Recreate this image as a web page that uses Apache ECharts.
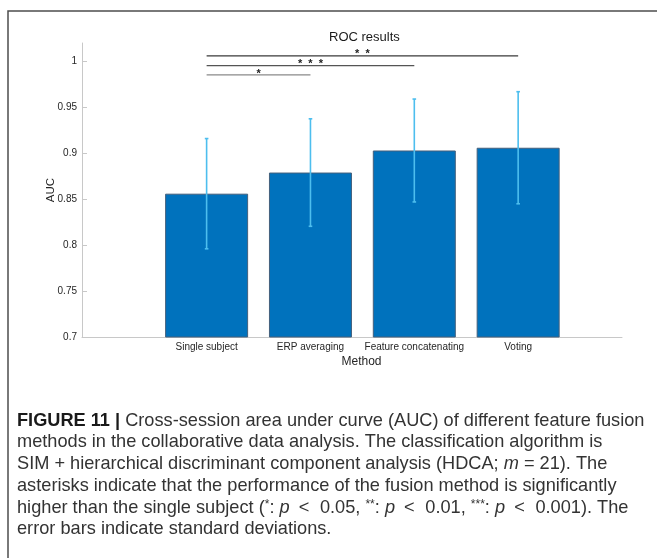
<!DOCTYPE html>
<html><head><meta charset="utf-8">
<script src="https://cdn.jsdelivr.net/npm/echarts@6/dist/echarts.min.js"></script>
<style>html,body{margin:0;padding:0;background:#fff}#c{width:657px;height:558px}</style>
</head><body><div id="c"></div>
<script>
// ---- data ----
const categories = ['Single subject', 'ERP averaging', 'Feature concatenating', 'Voting'];
const catPositions = [1, 2, 3, 4];
const aucMean = [0.856, 0.879, 0.903, 0.906];
const aucStd = [0.060, 0.0585, 0.056, 0.061];
const yTicks = [0.7, 0.75, 0.8, 0.85, 0.9, 0.95, 1];
const sigFrom = [1, 1, 1];
const sigTo = [4, 3, 2];
const sigY = [1.0059, 0.9954, 0.9852];
const sigLabel = ['*  *', '*  *  *', '*'];
const sigColor = ['#3a3a3a', '#555555', '#8a8a8a'];
const captionLines = [
  '{b|FIGURE 11 |} {n|Cross-session area under curve (AUC) of different feature fusion}',
  '{n|methods in the collaborative data analysis. The classification algorithm is}',
  '{n|SIM + hierarchical discriminant component analysis (HDCA; }{i|m}{n| = 21). The}',
  '{n|asterisks indicate that the performance of the fusion method is significantly}',
  '{n|higher than the single subject (}{s|*}{n|: }{i|p}{n|\u2002<\u2002\u200A0.05, }{s|**}{n|: }{i|p}{n|\u2002<\u2002\u200A0.01, }{s|***}{n|: }{i|p}{n|\u2002<\u2002\u200A0.001). The}',
  '{n|error bars indicate standard deviations.}'
];
const captionY = [420.7, 442.4, 464.1, 485.8, 507.5, 529.2];

// ---- build ----
const FONT = 'Liberation Sans, Arial, Helvetica, sans-serif';
const CAPFONT = 'Liberation Sans, Arial, sans-serif';
const barData = aucMean.map((v, i) => [catPositions[i], v]);
const errData = aucMean.map((v, i) => [catPositions[i], v - aucStd[i], v + aucStd[i]]);
const sigData = sigFrom.map((f, i) => [f, sigTo[i], sigY[i]]);

const capFont = 18.2;
const rich = {
  b: {fontFamily: CAPFONT, fontSize: capFont, fontWeight: 'bold', fill: '#1a1a1a'},
  n: {fontFamily: CAPFONT, fontSize: capFont, fill: '#333333'},
  i: {fontFamily: CAPFONT, fontSize: capFont, fontStyle: 'italic', fill: '#333333'},
  s: {fontFamily: CAPFONT, fontSize: 12, fill: '#333333', verticalAlign: 'top', padding: [0, 0, 6, 0]}
};
const graphics = [
  {type: 'rect', shape: {x: 8, y: 11, width: 700, height: 620}, style: {fill: 'none', stroke: '#4d4d4d', lineWidth: 1.5}, silent: true, z: -1}
].concat(captionLines.map((t, k) => ({
  type: 'text', x: 17, y: captionY[k],
  style: {text: t, rich: rich, verticalAlign: 'middle', align: 'left', fontFamily: CAPFONT, fontSize: capFont, fill: '#333'}
})));

const chart = echarts.init(document.getElementById('c'), null, {renderer: 'canvas'});
chart.setOption({
  animation: false,
  backgroundColor: '#ffffff',
  title: {
    text: 'ROC results', left: 324, top: 26,
    textStyle: {fontFamily: FONT, fontSize: 13, fontWeight: 'normal', color: '#1a1a1a'}
  },
  grid: {left: 82, right: 35, top: 43, bottom: 221, containLabel: false},
  xAxis: {
    type: 'value', min: -0.2, max: 5.0,
    name: 'Method', nameLocation: 'middle', nameGap: 19, nameMoveOverlap: false,
    nameTextStyle: {fontFamily: FONT, fontSize: 12, color: '#262626', padding: [0, 0, 0, 19]},
    axisLine: {show: true, onZero: false, lineStyle: {color: '#c8c8c8', width: 1}},
    axisTick: {show: false},
    splitLine: {show: false},
    axisLabel: {
      customValues: catPositions, margin: 5,
      fontFamily: FONT, fontSize: 10, color: '#262626',
      formatter: v => categories[catPositions.indexOf(Math.round(v))] || ''
    }
  },
  yAxis: {
    type: 'value', min: 0.7, max: 1.02,
    name: 'AUC', nameLocation: 'middle', nameGap: 25, nameMoveOverlap: false,
    nameTextStyle: {fontFamily: FONT, fontSize: 11.5, color: '#262626'},
    axisLine: {show: true, onZero: false, lineStyle: {color: '#c8c8c8', width: 1}},
    axisTick: {show: true, inside: true, length: 5, customValues: yTicks, lineStyle: {color: '#c8c8c8'}},
    splitLine: {show: false},
    axisLabel: {
      customValues: yTicks, margin: 5,
      fontFamily: FONT, fontSize: 10, color: '#262626',
      formatter: v => String(+v.toFixed(2))
    }
  },
  series: [
    {
      type: 'bar', data: barData, barWidth: 83,
      itemStyle: {color: '#0072BD', borderColor: '#44607c', borderWidth: 1},
      z: 2
    },
    {
      type: 'custom', data: errData, encode: {x: 0, y: [1, 2]}, z: 5,
      renderItem: function (params, api) {
        const x = api.value(0);
        const p1 = api.coord([x, api.value(1)]);
        const p2 = api.coord([x, api.value(2)]);
        const st = {stroke: '#4DBEEE', lineWidth: 1.6};
        const c = 1.8;
        return {type: 'group', children: [
          {type: 'line', shape: {x1: p1[0], y1: p1[1], x2: p2[0], y2: p2[1]}, style: st},
          {type: 'line', shape: {x1: p1[0] - c, y1: p1[1], x2: p1[0] + c, y2: p1[1]}, style: st},
          {type: 'line', shape: {x1: p2[0] - c, y1: p2[1], x2: p2[0] + c, y2: p2[1]}, style: st}
        ]};
      }
    },
    {
      type: 'custom', data: sigData, encode: {x: [0, 1], y: 2}, z: 5,
      renderItem: function (params, api) {
        const i = params.dataIndex;
        const a = api.coord([api.value(0), api.value(2)]);
        const b = api.coord([api.value(1), api.value(2)]);
        return {type: 'group', children: [
          {type: 'line', shape: {x1: a[0], y1: a[1], x2: b[0], y2: b[1]}, style: {stroke: sigColor[i], lineWidth: 1.2}},
          {type: 'text', x: (a[0] + b[0]) / 2, y: a[1] - 1.5,
            style: {text: sigLabel[i], align: 'center', verticalAlign: 'middle', fontFamily: FONT, fontSize: 11, fontWeight: 'bold', fill: '#222'}}
        ]};
      }
    }
  ],
  graphic: graphics
});
</script>
</body></html>
